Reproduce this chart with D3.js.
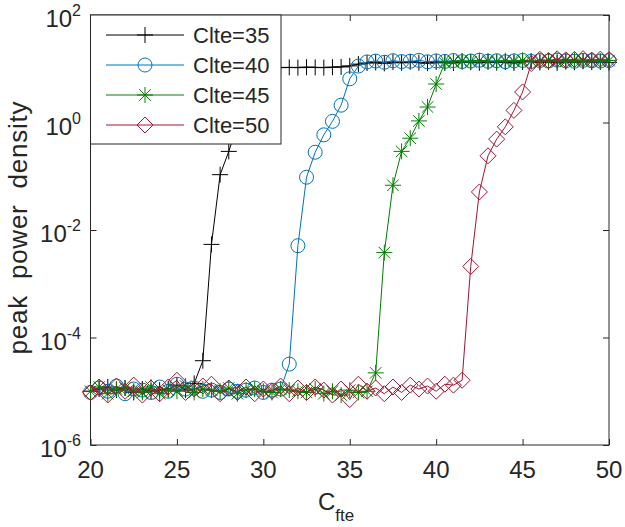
<!DOCTYPE html>
<html><head><meta charset="utf-8">
<script src="https://cdn.jsdelivr.net/npm/d3@7"></script>
<style>body{margin:0;background:#fff}svg{display:block}text{font-family:"Liberation Sans",Arial,sans-serif;fill:#262626}</style>
</head><body>
<script>
const xs = [20,20.5,21,21.5,22,22.5,23,23.5,24,24.5,25,25.5,26,26.5,27,27.5,28,28.5,29,29.5,30,30.5,31,31.5,32,32.5,33,33.5,34,34.5,35,35.5,36,36.5,37,37.5,38,38.5,39,39.5,40,40.5,41,41.5,42,42.5,43,43.5,44,44.5,45,45.5,46,46.5,47,47.5,48,48.5,49,49.5,50];
const clte35 = [1.0e-5,1.1e-5,1.2e-5,1.05e-5,1.15e-5,0.95e-5,1.1e-5,1.0e-5,1.05e-5,1.1e-5,1.3e-5,1.05e-5,1.4e-5,3.7e-5,5.4e-3,0.107,0.29,0.9,2.6,5.5,8.5,10.1,10.5,10.6,10.5,10.7,10.6,10.5,10.7,10.8,11.3,12.2,
 12.8,13.1,12.6,13.3,12.9,13.5,13.0,12.7,13.4,13.1,12.8,13.6,13.2,12.9,13.5,13.0,13.3,12.8,13.4,13.7,13.1,13.5,12.9,13.6,13.2,13.8,13.3,13.5,13.1];
const clte40 = [0.95e-5,1.15e-5,1.0e-5,1.25e-5,0.9e-5,1.1e-5,1.05e-5,0.95e-5,1.2e-5,1.0e-5,1.35e-5,1.1e-5,1.15e-5,1.0e-5,1.05e-5,0.95e-5,1.1e-5,1.0e-5,1.05e-5,1.15e-5,0.95e-5,1.05e-5,1.1e-5,
 3.2e-5,5.1e-3,0.096,0.28,0.59,1.05,2.1,6.5,11.2,
 13.4,13.9,13.2,14.1,13.6,13.8,14.3,13.5,14.0,13.7,14.2,13.6,13.9,14.4,13.8,14.1,13.5,14.0,14.3,13.7,14.2,13.9,14.5,14.0,13.8,14.3,14.1,13.9,14.2];
const clte45 = [1.0e-5,1.2e-5,0.9e-5,1.1e-5,1.15e-5,1.0e-5,0.95e-5,1.2e-5,0.9e-5,1.05e-5,1.0e-5,1.25e-5,0.95e-5,1.1e-5,1.05e-5,1.0e-5,1.15e-5,0.9e-5,1.05e-5,1.1e-5,1.0e-5,0.95e-5,1.1e-5,1.05e-5,1.0e-5,0.95e-5,1.1e-5,0.9e-5,1.0e-5,0.85e-5,1.05e-5,0.95e-5,1.0e-5,
 2.2e-5,3.8e-3,0.068,0.29,0.51,1.07,1.94,5.2,12.8,
 13.6,14.0,13.4,14.2,13.8,13.5,14.1,13.7,14.3,13.9,13.6,14.2,14.0,13.8,14.4,13.9,14.1,13.7,14.2];
const clte50 = [0.95e-5,1.2e-5,0.85e-5,1.25e-5,1.0e-5,1.3e-5,0.85e-5,1.15e-5,0.9e-5,1.2e-5,1.6e-5,0.95e-5,1.1e-5,1.25e-5,1.35e-5,0.9e-5,1.15e-5,0.95e-5,1.2e-5,0.9e-5,1.1e-5,1.0e-5,1.25e-5,0.9e-5,1.15e-5,0.95e-5,1.2e-5,1.05e-5,0.85e-5,1.1e-5,0.7e-5,1.35e-5,1.0e-5,1.15e-5,0.9e-5,1.2e-5,0.95e-5,1.3e-5,1.1e-5,1.25e-5,1.0e-5,1.35e-5,1.3e-5,
 1.6e-5,2.1e-3,0.051,0.24,0.49,0.83,1.68,3.7,12.5,
 15.0,14.2,15.3,14.6,14.9,15.4,14.5,15.1,14.8];
const seriesNames = ["Clte=35","Clte=40","Clte=45","Clte=50"];
const seriesValues = [clte35, clte40, clte45, clte50];
const seriesColors = ["#000000","#0072BD","#008000","#A2142F"];
const seriesMarkers = ["plus","circle","star","diamond"];
const xTicks = [20,25,30,35,40,45,50];
const yTickExps = [-6,-4,-2,0,2];

const W=625,H=527;
const svg=d3.select("body").append("svg").attr("width",W).attr("height",H);
const L=90.5,R=609,T=15,B=445;
const x=d3.scaleLinear().domain([20,50]).range([L,R]);
const y=d3.scaleLog().domain([1e-6,1e2]).range([B,T]);
const axc="#262626";

function markerPath(type){
  const s=8;
  if(type==="plus") return `M${-s},0H${s}M0,${-s}V${s}`;
  if(type==="circle") return d3.symbol().type(d3.symbolCircle).size(Math.PI*7*7)();
  if(type==="star"){const d=s*0.72;return `M${-s},0H${s}M0,${-s}V${s}M${-d},${-d}L${d},${d}M${-d},${d}L${d},${-d}`;}
  if(type==="diamond") return `M0,${-s}L${s},0L0,${s}L${-s},0Z`;
}

// axes box
svg.append("rect").attr("x",L).attr("y",T).attr("width",R-L).attr("height",B-T).attr("fill","#fff").attr("stroke",axc).attr("stroke-width",1);

const tl=6;
const xAxisB=d3.axisBottom(x).tickValues(xTicks).tickSize(-tl).tickFormat("");
svg.append("g").attr("transform",`translate(0,${B})`).call(xAxisB).call(g=>{g.select(".domain").remove();g.selectAll("line").attr("stroke",axc);});
const xAxisT=d3.axisTop(x).tickValues(xTicks).tickSize(-tl).tickFormat("");
svg.append("g").attr("transform",`translate(0,${T})`).call(xAxisT).call(g=>{g.select(".domain").remove();g.selectAll("line").attr("stroke",axc);});
const yVals=yTickExps.map(e=>Math.pow(10,e));
const yAxisL=d3.axisLeft(y).tickValues(yVals).tickSize(-tl).tickFormat("");
svg.append("g").attr("transform",`translate(${L},0)`).call(yAxisL).call(g=>{g.select(".domain").remove();g.selectAll("line").attr("stroke",axc);});
const yAxisR=d3.axisRight(y).tickValues(yVals).tickSize(-tl).tickFormat("");
svg.append("g").attr("transform",`translate(${R},0)`).call(yAxisR).call(g=>{g.select(".domain").remove();g.selectAll("line").attr("stroke",axc);});

// tick labels
svg.append("g").selectAll("text").data(xTicks).join("text")
  .attr("x",d=>x(d)).attr("y",478).attr("text-anchor","middle").attr("font-size",24).text(d=>d);
const yl=svg.append("g").selectAll("text").data(yTickExps).join("text")
  .attr("x",81).attr("y",d=>y(Math.pow(10,d))+12).attr("text-anchor","end").attr("font-size",24);
yl.append("tspan").text("10");
yl.append("tspan").attr("font-size",16).attr("dy",-11).text(d=>String(d));

// axis labels
const xl=svg.append("text").attr("x",318).attr("y",510).attr("font-size",24);
xl.append("tspan").text("C");
xl.append("tspan").attr("font-size",17).attr("dy",11).text("fte");
svg.append("text").attr("transform",`translate(27,228) rotate(-90)`).attr("text-anchor","middle")
  .style("white-space","pre")
  .attr("font-size",26).attr("textLength",253).attr("lengthAdjust","spacing").text("peak  power  density");

// series
const line=d3.line().x(d=>x(d[0])).y(d=>y(d[1]));
seriesValues.forEach((vals,i)=>{
  const pts=xs.map((xv,j)=>[xv,vals[j]]);
  const g=svg.append("g");
  g.append("path").attr("d",line(pts)).attr("fill","none").attr("stroke",seriesColors[i]).attr("stroke-width",1);
  g.selectAll("path.m").data(pts).join("path").attr("class","m")
    .attr("d",markerPath(seriesMarkers[i])).attr("transform",d=>`translate(${x(d[0])},${y(d[1])})`)
    .attr("fill","none").attr("stroke",seriesColors[i]).attr("stroke-width",1);
});

// legend
const lg=svg.append("g");
lg.append("rect").attr("x",L).attr("y",T).attr("width",281-L).attr("height",144-T).attr("fill","#fff").attr("stroke",axc).attr("stroke-width",1);
seriesNames.forEach((n,i)=>{
  const yy=35+i*30;
  lg.append("line").attr("x1",106).attr("x2",184).attr("y1",yy).attr("y2",yy).attr("stroke",seriesColors[i]).attr("stroke-width",1);
  lg.append("path").attr("d",markerPath(seriesMarkers[i])).attr("transform",`translate(145,${yy})`).attr("fill","none").attr("stroke",seriesColors[i]).attr("stroke-width",1);
  lg.append("text").attr("x",193).attr("y",yy+8).attr("font-size",22).text(n);
});
</script>
</body></html>
